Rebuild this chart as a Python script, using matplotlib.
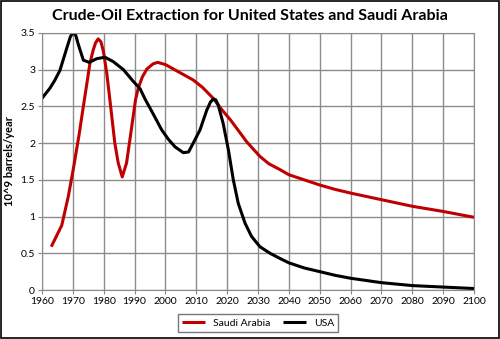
#!/usr/bin/env python3
"""Crude-oil extraction curves for the United States and Saudi Arabia."""

import matplotlib

matplotlib.use("Agg")
import matplotlib.pyplot as plt
from matplotlib.patches import Rectangle

# Saudi Arabia, 10^9 barrels/year
saudi_years = [1963, 1966.4, 1968.5, 1970.2, 1972, 1973.4, 1974.5, 1975.5, 1976.6,
               1977.4, 1978.2, 1979.1, 1979.9, 1981, 1982, 1983.6, 1984.7, 1986,
               1987.4, 1988.8, 1990.3, 1991.2, 1992.5, 1994, 1996, 1997.5, 2000,
               2003, 2006, 2009, 2012, 2015.5, 2018, 2021, 2023.5, 2026.3, 2030.6,
               2033.5, 2037.1, 2040, 2045, 2050, 2055, 2060, 2070, 2080, 2090, 2100]
saudi_vals = [0.59, 0.88, 1.27, 1.66, 2.11, 2.5, 2.8, 3.08, 3.27,
              3.37, 3.42, 3.38, 3.25, 2.95, 2.59, 2.0, 1.73, 1.54,
              1.73, 2.14, 2.59, 2.75, 2.9, 3.01, 3.08, 3.1, 3.07,
              3.0, 2.93, 2.86, 2.76, 2.61, 2.47, 2.32, 2.18, 2.02, 1.82,
              1.72, 1.64, 1.57, 1.5, 1.43, 1.37, 1.32, 1.23, 1.14, 1.07, 0.99]

# USA, 10^9 barrels/year
usa_years = [1960, 1962.6, 1964.2, 1965.8, 1968, 1969.2, 1970.3, 1971, 1971.8,
             1973.4, 1975.3, 1977.7, 1980.4, 1983.1, 1986.4, 1989.6, 1991.8,
             1993.4, 1996, 1998.8, 2001, 2003.1, 2005.8, 2007.5, 2009, 2011.2,
             2013.4, 2014.6, 2015.5, 2016.3, 2017.1, 2018.7, 2020.4, 2022,
             2023.6, 2025.8, 2027.9, 2030.6, 2033.9, 2037.1, 2040, 2045, 2050,
             2055, 2060, 2070, 2080, 2090, 2100]
usa_vals = [2.61, 2.75, 2.86, 2.99, 3.29, 3.45, 3.52, 3.46, 3.34,
            3.13, 3.1, 3.15, 3.17, 3.11, 3.0, 2.84, 2.74,
            2.6, 2.4, 2.18, 2.05, 1.95, 1.87, 1.88, 2.0, 2.18,
            2.45, 2.56, 2.6, 2.59, 2.52, 2.27, 1.91, 1.5,
            1.18, 0.91, 0.73, 0.59, 0.5, 0.43, 0.37, 0.3, 0.25,
            0.2, 0.16, 0.1, 0.06, 0.04, 0.02]

x_ticks = list(range(1960, 2101, 10))
y_ticks = [0, 0.5, 1, 1.5, 2, 2.5, 3, 3.5]

plt.rcParams["font.family"] = ["Lato", "DejaVu Sans"]

fig = plt.figure(figsize=(5.0, 3.39), dpi=100)
ax = fig.add_axes([42 / 500, 1 - 290 / 339, 432 / 500, 257 / 339])

ax.plot(saudi_years, saudi_vals, color="#C00000", linewidth=2.2,
        label="Saudi Arabia", solid_joinstyle="round", solid_capstyle="butt")
ax.plot(usa_years, usa_vals, color="black", linewidth=2.2,
        label="USA", solid_joinstyle="round", solid_capstyle="butt")

ax.set_xlim(1960, 2100)
ax.set_ylim(0, 3.5)
ax.set_xticks(x_ticks)
ax.set_yticks(y_ticks)
ax.set_yticklabels([f"{v:g}" for v in y_ticks])
ax.tick_params(labelsize=7.5, length=3, color="#888888", pad=2)
ax.grid(True, color="#8c8c8c", linewidth=1.0)
ax.set_axisbelow(True)
for spine in ax.spines.values():
    spine.set_color("#8c8c8c")

ax.set_ylabel("10^9 barrels/year", fontsize=8, fontweight="bold", labelpad=4)
fig.suptitle("Crude-Oil Extraction for United States and Saudi Arabia",
             x=0.5, y=0.972, fontsize=11.5, fontweight="bold")

ax.legend(loc="upper center", bbox_to_anchor=(0.5, -0.075), ncol=2,
          fontsize=7.5, frameon=True, fancybox=False, edgecolor="#555555",
          handlelength=2.2, columnspacing=1.2, borderpad=0.4)

# thin frame round the whole figure
fig.patches.append(Rectangle((0.002, 0.003), 0.996, 0.994, transform=fig.transFigure,
                             fill=False, edgecolor="black", linewidth=1.2))

fig.savefig("out.png", dpi=100)
